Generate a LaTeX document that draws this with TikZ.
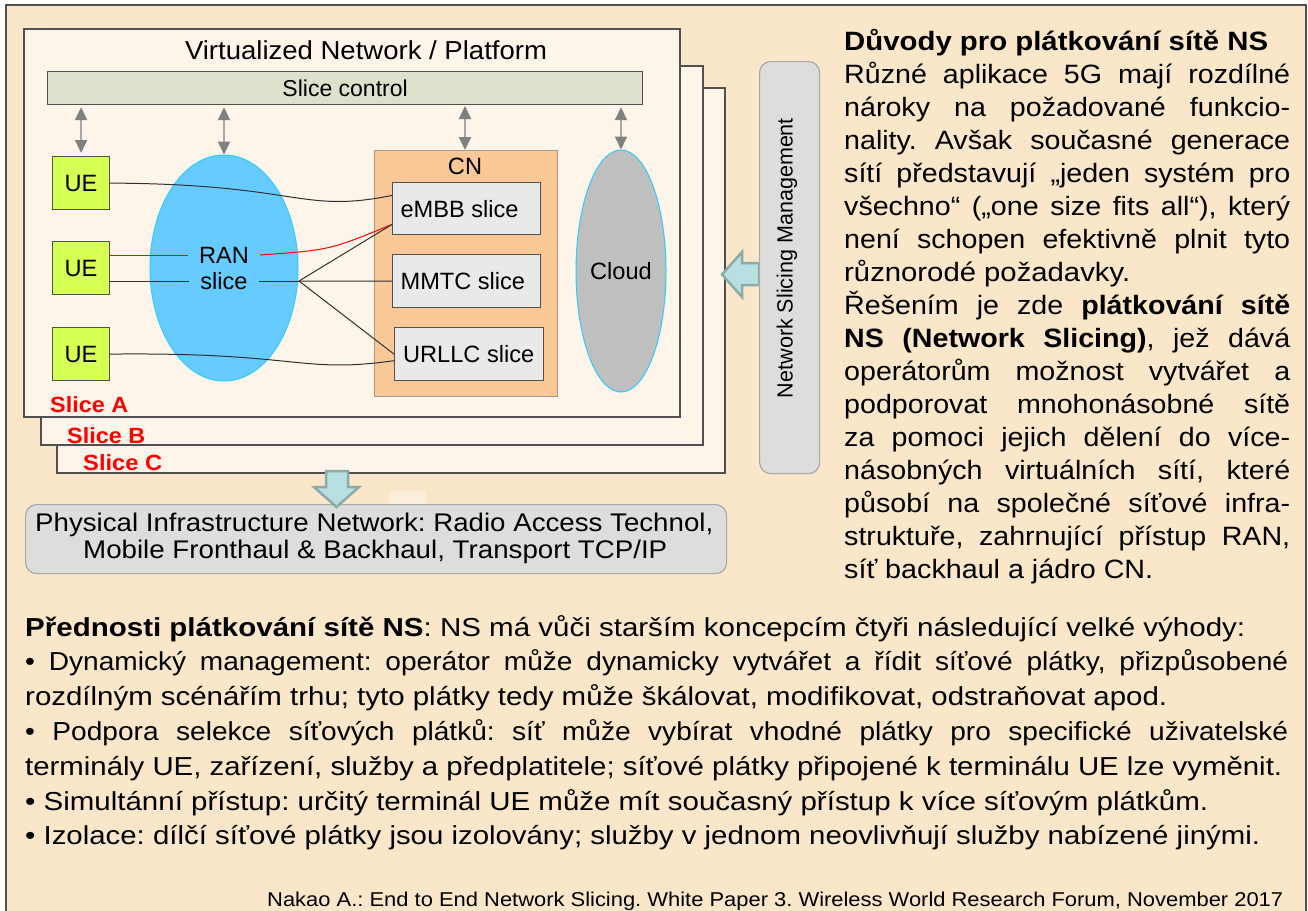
\documentclass[tikz,border=0pt]{standalone}
\usepackage{fontspec}
\usepackage{graphicx}
\setmainfont{Liberation Sans}
\newfontfamily\wideface{Liberation Sans}[FakeStretch=1.08]
\usetikzlibrary{arrows.meta,shapes.geometric,calc}
\frenchspacing

\definecolor{pagebg}{HTML}{FAE6C8}
\definecolor{slicebg}{HTML}{FDF5EA}
\definecolor{framegray}{HTML}{505050}
\definecolor{ctrlfill}{HTML}{DDE1CB}
\definecolor{uefill}{HTML}{D5FF55}
\definecolor{ranfill}{HTML}{66CCFF}
\definecolor{cyanedge}{HTML}{2ECBFA}
\definecolor{cnfill}{HTML}{F9C896}
\definecolor{cnedge}{HTML}{A89A8A}
\definecolor{svcfill}{HTML}{E9E9E9}
\definecolor{cloudfill}{HTML}{BFBFBF}
\definecolor{mgmtfill}{HTML}{DDDDDD}
\definecolor{mgmtedge}{HTML}{A8A8A8}
\definecolor{blockfill}{HTML}{B8E0E3}
\definecolor{blockedge}{HTML}{8CAAA8}
\definecolor{tipgray}{HTML}{808080}
\definecolor{stemgray}{HTML}{A8A8A8}
\definecolor{patch}{HTML}{FCEEDC}
\definecolor{linkgray}{HTML}{303030}

% stretch a line to a given width horizontally
\newcommand\fitto[2]{\resizebox{#1}{\height}{#2}}
% justified line of a given width
\newcommand\spread[2]{\makebox[#1][s]{#2}}
% left-aligned label of a fixed width
\newcommand\leftin[2]{\makebox[#1][l]{#2}}

\begin{document}
\begin{tikzpicture}[x=1pt,y=-1pt,
  slicebox/.style={draw=framegray, fill=slicebg, line width=1.3pt},
  shapebox/.style={anchor=north west, inner sep=0pt, line width=1.2pt},
  lbl/.style={font=\fontsize{23.6}{28}\selectfont, inner sep=0pt},
  uebox/.style={shapebox, lbl, draw=framegray, fill=uefill, minimum width=57, minimum height=53},
  svcbox/.style={shapebox, lbl, draw=framegray, fill=svcfill, minimum height=53, minimum width=148},
  ctrl/.style={draw=stemgray, line width=1.8pt,
    arrows={Triangle[width=12pt,length=13pt,color=tipgray]-Triangle[width=12pt,length=13pt,color=tipgray]}},
  link/.style={draw=linkgray, line width=1pt},
  redlink/.style={draw=red, line width=1pt},
  block/.style={draw=blockedge, fill=blockfill, line width=2.5pt, line join=miter},
  coltext/.style={anchor=base west, inner sep=0pt, font=\wideface\fontsize{26.5}{33}\selectfont},
  bottext/.style={anchor=base west, inner sep=0pt, font=\wideface\fontsize{26}{35}\selectfont},
  slicelbl/.style={anchor=base west, inner sep=0pt, text=red, font=\bfseries\fontsize{22}{26}\selectfont}]

\useasboundingbox (0,0) rectangle (1308,910);
\fill[white] (0,0) rectangle (1308,910);
\draw[framegray, fill=pagebg, line width=1.5pt] (6,5) rectangle (1306,930);

% stacked slices
\draw[slicebox] (57,88) rectangle (725,473);
\draw[slicebox] (41,66) rectangle (703,445);
\draw[slicebox] (24,29) rectangle (680,417);

\node[anchor=base, inner sep=0pt, font=\fontsize{26}{30}\selectfont] (vtitle) at (366,59)
  {\fitto{362pt}{Virtualized Network / Platform}};

\node[shapebox, lbl, draw=framegray, fill=ctrlfill, minimum width=595, minimum height=33,
      font=\fontsize{23}{27}\selectfont] (sc) at (47,71) {Slice control};

% user equipment
\node[uebox] (ue1) at (52,156) {UE};
\node[uebox] (ue2) at (52,241) {UE};
\node[uebox] (ue3) at (52,327) {UE};

% radio access slice
\node[ellipse, draw=cyanedge, fill=ranfill, line width=1pt, minimum width=148, minimum height=226, inner sep=0pt] (ran) at (224,268) {};
\node[lbl, inner xsep=11pt] (ranA) at (224,255) {RAN};
\node[lbl, inner xsep=11pt] (ranB) at (224,281) {slice};

% core network
\node[shapebox, draw=cnedge, fill=cnfill, minimum width=183, minimum height=246, line width=1pt] (cn) at (374,150) {};
\node[lbl, anchor=base] (cnlbl) at (465,174) {CN};
\node[svcbox, minimum height=52] (emb) at (392,182) {\leftin{132pt}{eMBB slice}};
\node[svcbox] (mmtc) at (392,254) {\leftin{132pt}{MMTC slice}};
\node[svcbox, minimum width=149] (urllc) at (394,327) {\leftin{132pt}{URLLC slice}};

% cloud
\node[ellipse, lbl, draw=cyanedge, fill=cloudfill, line width=1pt, minimum width=90, minimum height=242] (cloud) at (621,271) {Cloud};

% control arrows
\draw[ctrl] (ue1.north |- sc.south) ++(0,2) -- (ue1.north |- 0,153);
\draw[ctrl] (ran.north |- sc.south) ++(0,2) -- (ran.north);
\draw[ctrl] (465,106) -- (cn.north -| 465,0);
\draw[ctrl] (cloud.north |- sc.south) ++(0,2) -- (cloud.north);

% links
\coordinate (hub) at (299,281);
\draw[link] (ue1.east) .. controls (300,184) and (300,214) .. (emb.170);
\draw[redlink] (ue2.east |- ranA) -- (ranA.west);
\draw[redlink] (ranA.east) .. controls (330,250) .. (emb.192);
\draw[link] (ue2.east |- ranB) -- (ranB.west);
\draw[link] (ranB.east) -- (hub);
\draw[link] (hub) -- (emb.192);
\draw[link] (hub) -- (mmtc.west);
\draw[link] (hub) -- (urllc.west);
\draw[link] (ue3.east) .. controls (300,352) and (300,374) .. (urllc.185);

% slice names
\node[slicelbl] (sa) at (50,412) {\fitto{78pt}{Slice A}};
\node[slicelbl] (sb) at (67,443) {\fitto{78pt}{Slice B}};
\node[slicelbl] (sC) at (83,470) {\fitto{79pt}{Slice C}};

% management column and its arrow
\draw[block] (759,263) -- (742,263) -- (742,252) -- (722,274.5) -- (742,297) -- (742,285) -- (759,285) -- cycle;
\node[shapebox, draw=mgmtedge, fill=mgmtfill, rounded corners=11pt, minimum width=60, minimum height=412] (nsm) at (759,61) {};
\node[inner sep=0pt, rotate=90, font=\fontsize{22}{26}\selectfont] (nsmtxt) at (787,258)
  {\fitto{280pt}{Network Slicing Management}};

% physical infrastructure
\fill[patch] (389,491) rectangle (426,507);
\node[shapebox, draw=mgmtedge, fill=mgmtfill, rounded corners=11pt, minimum width=701, minimum height=69] (phys) at (25,504) {};
\node[anchor=base west, inner sep=0pt, font=\fontsize{25.5}{30}\selectfont] (phys1) at (35,531)
  {\fitto{678pt}{Physical Infrastructure Network: Radio Access Technol,}};
\node[anchor=base west, inner sep=0pt, font=\fontsize{25.5}{30}\selectfont] (phys2) at (83,558)
  {\fitto{584pt}{Mobile Fronthaul \& Backhaul, Transport TCP/IP}};
\draw[block] (326,471) -- (348,471) -- (348,487) -- (359,487) -- (336.5,507) -- (314,487) -- (326,487) -- cycle;

% right column
\node[coltext] (r0) at (844,50) {\fitto{424pt}{\bfseries Důvody pro plátkování sítě NS}};
\node[coltext] (r1) at (844,83) {\spread{446pt}{Různé aplikace 5G mají rozdílné}};
\node[coltext] (r2) at (844,116) {\spread{446pt}{nároky na požadované funkcio-}};
\node[coltext] (r3) at (844,149) {\spread{446pt}{nality. Avšak současné generace}};
\node[coltext] (r4) at (844,182) {\spread{446pt}{sítí představují „jeden systém pro}};
\node[coltext] (r5) at (844,215) {\spread{446pt}{všechno“ („one size fits all“), který}};
\node[coltext] (r6) at (844,248) {\spread{446pt}{není schopen efektivně plnit tyto}};
\node[coltext] (r7) at (844,281) {\fitto{286pt}{různorodé požadavky.}};
\node[coltext] (r8) at (844,314) {\spread{446pt}{Řešením je zde \textbf{plátkování sítě}}};
\node[coltext] (r9) at (844,347) {\spread{446pt}{\textbf{NS (Network Slicing)}, jež dává}};
\node[coltext] (r10) at (844,380) {\spread{446pt}{operátorům možnost vytvářet a}};
\node[coltext] (r11) at (844,413) {\spread{446pt}{podporovat mnohonásobné sítě}};
\node[coltext] (r12) at (844,446) {\spread{446pt}{za pomoci jejich dělení do více-}};
\node[coltext] (r13) at (844,479) {\spread{446pt}{násobných virtuálních sítí, které}};
\node[coltext] (r14) at (844,512) {\spread{446pt}{působí na společné síťové infra-}};
\node[coltext] (r15) at (844,545) {\spread{446pt}{struktuře, zahrnující přístup RAN,}};
\node[coltext] (r16) at (844,578) {\fitto{309pt}{síť backhaul a jádro CN.}};

% advantages
\node[bottext] (b0) at (25,636) {\fitto{1220pt}{\textbf{Přednosti plátkování sítě NS}: NS má vůči starším koncepcím čtyři následující velké výhody:}};
\node[bottext] (b1) at (25,670.8) {\spread{1263pt}{• Dynamický management: operátor může dynamicky vytvářet a řídit síťové plátky, přizpůsobené}};
\node[bottext] (b2) at (25,705.6) {\fitto{1142pt}{rozdílným scénářím trhu; tyto plátky tedy může škálovat, modifikovat, odstraňovat apod.}};
\node[bottext] (b3) at (25,740.4) {\spread{1263pt}{• Podpora selekce síťových plátků: síť může vybírat vhodné plátky pro specifické uživatelské}};
\node[bottext] (b4) at (25,775.2) {\fitto{1257pt}{terminály UE, zařízení, služby a předplatitele; síťové plátky připojené k terminálu UE lze vyměnit.}};
\node[bottext] (b5) at (25,810) {\fitto{1183pt}{• Simultánní přístup: určitý terminál UE může mít současný přístup k více síťovým plátkům.}};
\node[bottext] (b6) at (25,844.8) {\fitto{1235pt}{• Izolace: dílčí síťové plátky jsou izolovány; služby v jednom neovlivňují služby nabízené jinými.}};

\node[anchor=base west, inner sep=0pt, font=\fontsize{20}{24}\selectfont] (cite) at (267,906)
  {\fitto{1016pt}{Nakao A.: End to End Network Slicing. White Paper 3. Wireless World Research Forum, November 2017}};
\end{tikzpicture}
\end{document}
